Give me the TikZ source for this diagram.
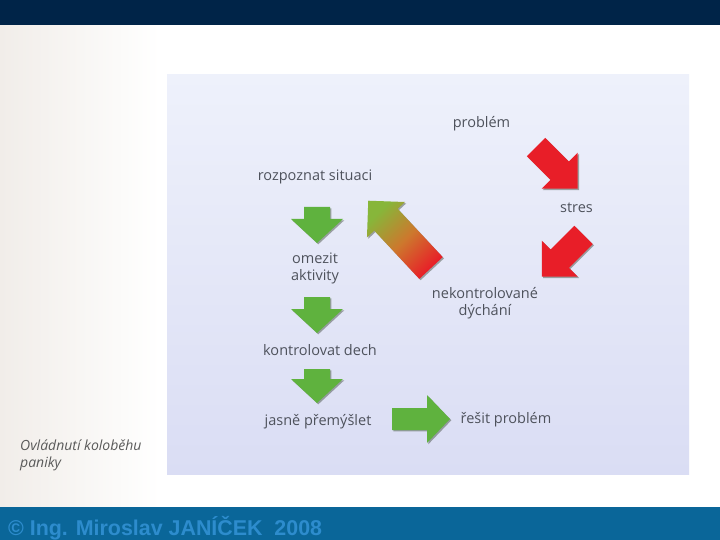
\documentclass[tikz,border=0pt]{standalone}
\usepackage{fontspec}
\setmainfont{Open Sans}
\newfontfamily\barfont{Liberation Sans}
\definecolor{topbar}{RGB}{0,36,72}
\definecolor{bottombar}{RGB}{10,102,153}
\definecolor{bartext}{RGB}{45,140,205}
\definecolor{panetop}{RGB}{238,241,251}
\definecolor{panebottom}{RGB}{218,221,244}
\definecolor{leftbeige}{RGB}{241,237,233}
\definecolor{labelgray}{RGB}{78,82,92}
\definecolor{arrowgreen}{RGB}{95,178,62}
\definecolor{gradgreen}{RGB}{135,182,58}
\definecolor{gradorange}{RGB}{205,120,45}
\definecolor{arrowred}{RGB}{232,30,40}
\definecolor{arrowshade}{RGB}{60,70,55}
\tikzset{
  lbl/.style={font=\fontsize{14.5}{17}\selectfont, text=labelgray, inner sep=0pt, anchor=base, align=center},
  pics/blockarrow/.style args={#1/#2/#3/#4}{code={
    \path[preaction={fill=arrowshade, opacity=.45, transform canvas={xshift=1.3pt, yshift=-1.3pt}}, pic actions]
      (0,-#2) -- (#1-#4,-#2) -- (#1-#4,-#3) -- (#1,0) -- (#1-#4,#3) -- (#1-#4,#2) -- (0,#2) -- cycle;
  }},
}
\begin{document}
\begin{tikzpicture}[x=1pt, y=-1pt]
	\useasboundingbox (0,0) rectangle (720,540);
	% background, bars and panel
	\fill[white] (0,0) rectangle (720,540);
	\shade[left color=leftbeige, right color=white] (0,25) rectangle (160,507);
	\fill[topbar] (0,0) rectangle (720,25);
	\shade[top color=panetop, bottom color=panebottom] (167,75) rectangle (689,474);
	\fill[bottombar] (0,507) rectangle (720,540);
	% labels (base = last line)
	\node[lbl] (problem) at (481.5,128) {problém};
	\node[lbl] (rozpoznat) at (315,181) {rozpoznat situaci};
	\node[lbl] (stres) at (576.5,212) {stres};
	\node[lbl] (omezit) at (315,280) {omezit\\aktivity};
	\node[lbl] (dychani) at (485,315) {nekontrolované\\dýchání};
	\node[lbl] (kontrola) at (320,355) {kontrolovat dech};
	\node[lbl] (premyslet) at (318,425) {jasně přemýšlet};
	\node[lbl] (resit) at (506,423) {řešit problém};
	\node[lbl, anchor=base west, align=left, font=\fontsize{14}{17}\selectfont\itshape, text=black!65] (popisek) at (20,467) {Ovládnutí koloběhu\\paniky};
	\node[anchor=base west, inner sep=0pt, text=bartext, font=\barfont\bfseries\fontsize{21.4}{24}\selectfont] (autor) at (8,535) {© Ing. Miroslav JANÍČEK\ \ 2008};
	% green arrows
	\foreach \ay/\al in {207/36, 297/36, 369/34}
		\pic[fill=arrowgreen, rotate=-90] at (317,\ay) {blockarrow=\al/13/26/24};
	\pic[fill=arrowgreen] at (392,419) {blockarrow=58/11/24/23};
	% red arrows
	\pic[fill=arrowred, rotate=-45] at (536,147) {blockarrow=59/13/25.5/25.5};
	\pic[fill=arrowred, rotate=-135] at (583.5,235) {blockarrow=59/13/25.5/25.5};
	% back to the start
	\pic[top color=gradgreen, bottom color=arrowred, middle color=gradorange, shading angle=45, rotate=133] at (431,268) {blockarrow=92/16/26/26};
\end{tikzpicture}
\end{document}
